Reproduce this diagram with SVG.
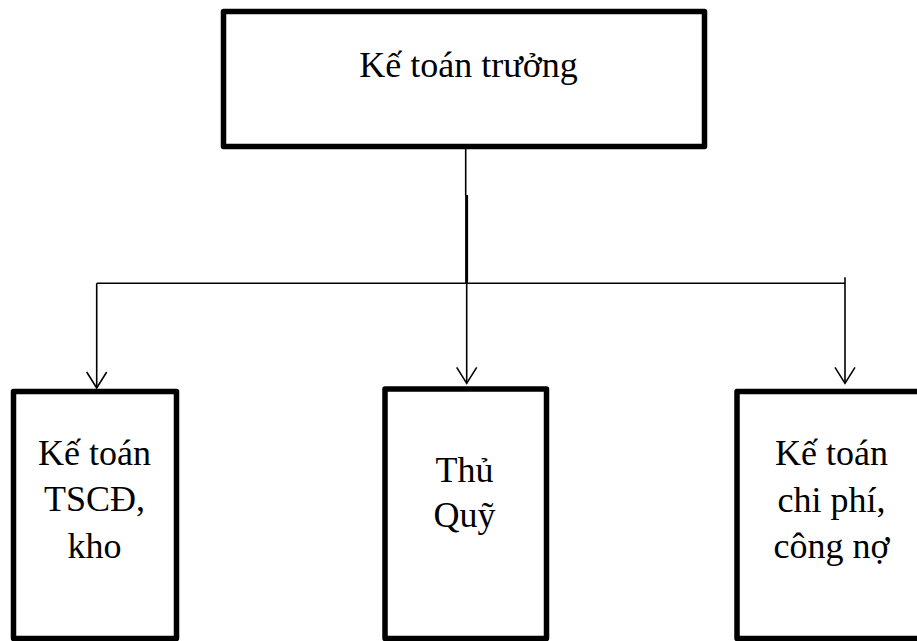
<svg xmlns="http://www.w3.org/2000/svg" width="917" height="641" viewBox="0 0 917 641">
  <style>
    .box { fill: #ffffff; stroke: #000000; stroke-width: 5.5; stroke-linejoin: round; }
    .lbl { font-family: "Liberation Serif", "Times New Roman", serif; font-size: 36px; fill: #000000; text-anchor: middle; }
    .wire { fill: none; stroke: #000000; stroke-width: 1.6; }
    .head { fill: none; stroke: #000000; stroke-width: 1.6; stroke-linejoin: miter; }
  </style>
  <defs>
    <marker id="vee" markerUnits="userSpaceOnUse" markerWidth="40" markerHeight="40" refX="0" refY="0" orient="auto" overflow="visible">
      <path class="head" d="M-16,-10 L0,0 L-16,10"/>
    </marker>
  </defs>

  <rect width="917" height="641" fill="#ffffff"/>

  <!-- connectors -->
  <g id="connectors">
    <line class="wire" x1="465.7" y1="149" x2="465.7" y2="195"/>
    <line class="wire" x1="466.6" y1="195" x2="466.6" y2="283.3" style="stroke-width:3"/>
    <line class="wire" x1="96.7" y1="283.3" x2="845" y2="283.3"/>
    <line class="wire" x1="96.7" y1="283.3" x2="96.7" y2="388" marker-end="url(#vee)"/>
    <line class="wire" x1="466.7" y1="283.3" x2="466.7" y2="383.3" marker-end="url(#vee)"/>
    <line class="wire" x1="845" y1="277.3" x2="845" y2="383.3" marker-end="url(#vee)"/>
  </g>

  <!-- chief accountant -->
  <g id="ke-toan-truong">
    <rect class="box" x="223.5" y="11.5" width="481" height="135"/>
    <text class="lbl" x="468.5" y="77">Kế toán trưởng</text>
  </g>

  <!-- fixed assets and stock -->
  <g id="ke-toan-tscd-kho">
    <rect class="box" x="13.5" y="391.5" width="163" height="247"/>
    <text class="lbl" x="94.5" y="465">Kế toán</text>
    <text class="lbl" x="94.5" y="511">TSCĐ,</text>
    <text class="lbl" x="94.5" y="558">kho</text>
  </g>

  <!-- cashier -->
  <g id="thu-quy">
    <rect class="box" x="385" y="389" width="161.5" height="249.5"/>
    <text class="lbl" x="464.5" y="482">Thủ</text>
    <text class="lbl" x="464.5" y="527">Quỹ</text>
  </g>

  <!-- costs and payables -->
  <g id="ke-toan-chi-phi-cong-no">
    <rect class="box" x="737" y="391.5" width="190" height="247"/>
    <text class="lbl" x="831.5" y="465">Kế toán</text>
    <text class="lbl" x="831.5" y="512">chi phí,</text>
    <text class="lbl" x="831.5" y="558">công nợ</text>
  </g>
</svg>
